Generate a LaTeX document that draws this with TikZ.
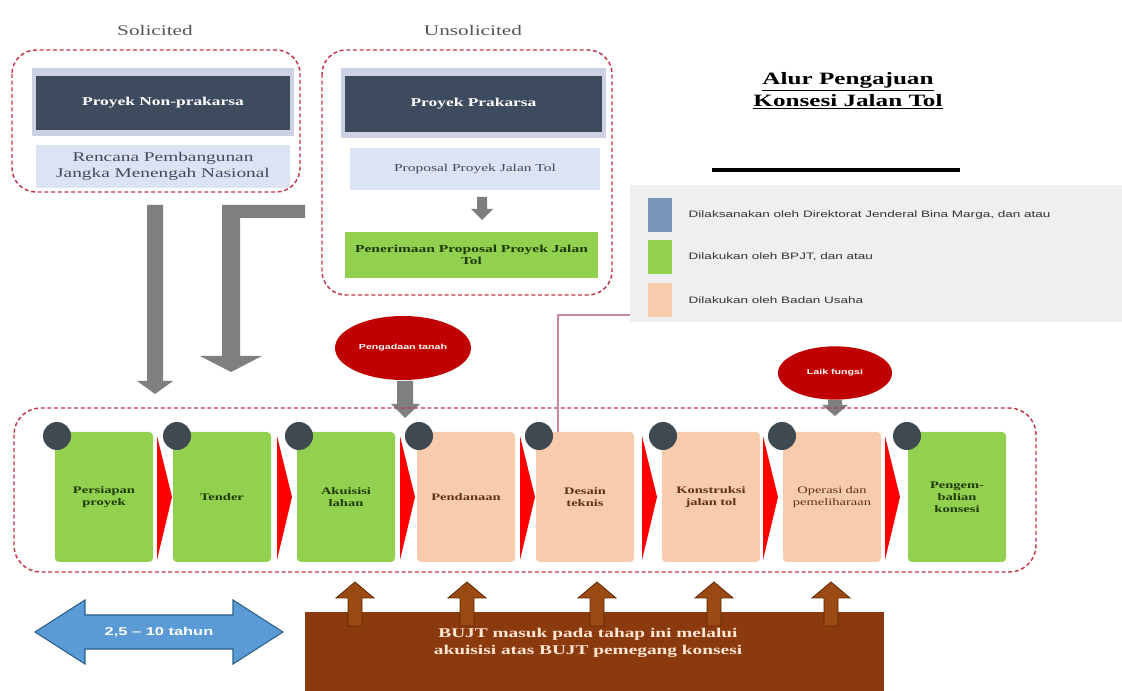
\documentclass[tikz,border=0pt]{standalone}
\usepackage{fontspec}
\setmainfont{Liberation Serif}[FakeStretch=1.45]
\newfontfamily\legendfont{Liberation Sans}[FakeStretch=1.45]
\usetikzlibrary{shapes.geometric,calc}

\definecolor{framered}{HTML}{C0384A}
\definecolor{slate}{HTML}{3E4B5E}
\definecolor{lavender}{HTML}{CDD1E4}
\definecolor{paleblue}{HTML}{DCE3F2}
\definecolor{stepgreen}{HTML}{92D050}
\definecolor{greentext}{HTML}{1E3A05}
\definecolor{peach}{HTML}{F8CBAD}
\definecolor{browntext}{HTML}{5A3418}
\definecolor{ballgray}{HTML}{3E4951}
\definecolor{arrowgray}{HTML}{7F7F7F}
\definecolor{ovalred}{HTML}{C00000}
\definecolor{legendbg}{HTML}{EFEFEF}
\definecolor{legendtext}{HTML}{333333}
\definecolor{legblue}{HTML}{7895B8}
\definecolor{linkpink}{HTML}{C78A98}
\definecolor{brownbox}{HTML}{8B3A0E}
\definecolor{arrowbrown}{HTML}{9C4A14}
\definecolor{arrowedge}{HTML}{5E2600}
\definecolor{bluefill}{HTML}{5B9BD5}
\definecolor{blueedge}{HTML}{2E5F8A}
\definecolor{headtext}{HTML}{555555}
\definecolor{panelcream}{HTML}{FFE6D5}

\begin{document}
\begin{tikzpicture}[x=0.75pt,y=-0.75pt,
  frame/.style={draw=framered, line width=1.1pt, dash pattern=on 3pt off 2pt, rounded corners=18pt},
  headbox/.style={fill=slate, text=white, font=\bfseries\fontsize{9}{11}\selectfont, inner sep=0pt, align=center},
  lightbox/.style={fill=paleblue, inner sep=0pt, align=center},
  stepbox/.style={minimum width=73.5pt, minimum height=97.5pt, rounded corners=3pt, inner sep=2pt,
                  align=center, text width=66pt, font=\bfseries\fontsize{7.5}{9}\selectfont},
  govstep/.style={stepbox, fill=stepgreen, text=greentext},
  bustep/.style={stepbox, fill=peach, text=browntext},
  chevron/.style={fill=red},
  numball/.style={circle, fill=ballgray, minimum size=21pt, inner sep=0pt},
  blockgray/.style={fill=arrowgray},
  upbrown/.style={fill=arrowbrown, draw=arrowedge, line width=0.6pt},
  redoval/.style={ellipse, fill=ovalred, text=white, inner sep=0pt,
                  font=\legendfont\bfseries\fontsize{5.5}{6.5}\selectfont},
  legsq/.style={minimum width=18pt, minimum height=25.5pt, inner sep=0pt},
  legtxt/.style={anchor=west, font=\legendfont\fontsize{7}{8}\selectfont, text=legendtext},
  grouplabel/.style={font=\fontsize{11}{13}\selectfont, text=headtext},
]
\useasboundingbox (0,0) rectangle (1122,691);
\fill[white] (0,0) rectangle (1122,691);

% ---------- source of projects ----------
\node[grouplabel] (solLabel) at (155,30) {Solicited};
\node[grouplabel] (unsolLabel) at (473,30) {Unsolicited};

\draw[frame] (12,50) rectangle (300,192);
\draw[frame] (322,50) rectangle (612,295);

\fill[lavender] (32,68) rectangle (294,136);
\fill[lavender] (341,68) rectangle (606,138);

\node[headbox, minimum width=190.5pt, minimum height=40.5pt] (nonprak) at (163,103) {Proyek Non-prakarsa};
\node[lightbox, minimum width=190.5pt, minimum height=32.25pt,
      font=\fontsize{10}{12}\selectfont, text=slate] (rpjmn) at (163,166.5)
      {Rencana Pembangunan\\Jangka Menengah Nasional};

\node[headbox, minimum width=192.75pt, minimum height=42pt] (prak) at (473.5,104) {Proyek Prakarsa};
\node[lightbox, minimum width=187.5pt, minimum height=31.5pt,
      font=\fontsize{8}{10}\selectfont, text=slate] (proposal) at (475,169) {Proposal Proyek Jalan Tol};
\fill[arrowgray] (477,197) -- (487,197) -- (487,209) -- (493,209) -- (482,220) -- (471,209) -- (477,209) -- cycle;
\node[fill=stepgreen, minimum width=189.75pt, minimum height=34.5pt, inner sep=0pt, align=center,
      font=\bfseries\fontsize{8}{9.5}\selectfont, text=greentext] (terima) at (471.5,255)
      {Penerimaan Proposal Proyek Jalan\\Tol};

% ---------- title and legend ----------
\node[font=\bfseries\fontsize{13}{16.5}\selectfont, align=center] (judul) at (848,91)
      {\underline{Alur Pengajuan}\\\underline{Konsesi Jalan Tol}};
\draw[line width=3pt] (712,170) -- (960,170);

\node[fill=legendbg, minimum width=369pt, minimum height=102.75pt, inner sep=0pt] (legend) at (876,253.5) {};
\node[legsq, fill=legblue] (sqDjbm) at (660,215) {};
\node[legsq, fill=stepgreen] (sqBpjt) at (660,257) {};
\node[legsq, fill=peach] (sqBu) at (660,300) {};
\node[legtxt] (txtDjbm) at (684,215) {Dilaksanakan oleh Direktorat Jenderal Bina Marga, dan atau};
\node[legtxt] (txtBpjt) at (684,257) {Dilakukan oleh BPJT, dan atau};
\node[legtxt] (txtBu) at (684,300) {Dilakukan oleh Badan Usaha};

% ---------- inflow arrows ----------
\fill[blockgray] (147,205) -- (163,205) -- (163,381) -- (173,381) -- (155,394) -- (137,381) -- (147,381) -- cycle;
\fill[blockgray] (305,205) -- (305,218) -- (240,218) -- (240,356) -- (262,356) -- (231,372)
                 -- (200,356) -- (222,356) -- (222,205) -- cycle;

\node[redoval, minimum width=102pt, minimum height=48pt] (lahan) at (403,348) {Pengadaan tanah};
\fill[blockgray] (397,381) -- (413,381) -- (413,404) -- (420,404) -- (405,418) -- (391,404) -- (397,404) -- cycle;

\node[redoval, minimum width=85.5pt, minimum height=40pt] (laik) at (835,373) {Laik fungsi};
\fill[blockgray] (828,400) -- (842,400) -- (842,405) -- (848,405) -- (835,416) -- (822,405) -- (828,405) -- cycle;

% ---------- process chain ----------
\draw[frame, rounded corners=20pt] (14,408) rectangle (1036,572);

\node[govstep] (s1) at (104,497) {Persiapan\\proyek};
\node[govstep] (s2) at (222,497) {Tender};
\node[govstep] (s3) at (346,497) {Akuisisi\\lahan};
\node[bustep]  (s4) at (466,497) {Pendanaan};
\node[bustep]  (s5) at (585,497) {Desain\\teknis};
\node[bustep]  (s6) at (711,497) {Konstruksi\\jalan tol};
\node[bustep, font=\fontsize{7.5}{9}\selectfont]  (s7) at (832,497) {Operasi dan\\pemeliharaan};
\node[govstep] (s8) at (957,497) {Pengem-\\balian\\konsesi};

\foreach \cx in {157,277,400,520,642,763,885}
  \fill[chevron] (\cx,436) -- (\cx+15,497) -- (\cx,560) -- cycle;

\foreach \bx/\nm in {57/b1,177/b2,299/b3,419/b4,539/b5,663/b6,782/b7,907/b8}
  \node[numball] (\nm) at (\bx,436) {};

\coordinate (linkTop) at (558,315);
\draw[linkpink, line width=1.2pt] (s5.north -| linkTop) -- (linkTop) -- (linkTop -| legend.west);

% ---------- duration ----------
\filldraw[fill=bluefill, draw=blueedge, line width=0.8pt]
  (35,632) -- (85,600) -- (85,615) -- (233,615) -- (233,600) -- (283,632)
  -- (233,664) -- (233,649) -- (85,649) -- (85,664) -- cycle;
\node[text=white, font=\legendfont\bfseries\fontsize{8.5}{10}\selectfont] (durasi) at (159,632) {2,5 \textendash{} 10 tahun};

% ---------- acquisition panel ----------
\node[fill=brownbox, minimum width=434.25pt, minimum height=59.25pt, inner sep=0pt] (panel) at (594.5,651.5) {};
\foreach \ax in {355,467,597,714,831}
  \filldraw[upbrown] (\ax-7,626) -- (\ax-7,598) -- (\ax-19,598) -- (\ax,582) -- (\ax+19,598)
                     -- (\ax+7,598) -- (\ax+7,626) -- cycle;
\node[text=panelcream, align=center, font=\bfseries\fontsize{10}{12.75}\selectfont] (panelText) at (588,643)
  {BUJT masuk pada tahap ini melalui\\akuisisi atas BUJT pemegang konsesi};

\end{tikzpicture}
\end{document}
